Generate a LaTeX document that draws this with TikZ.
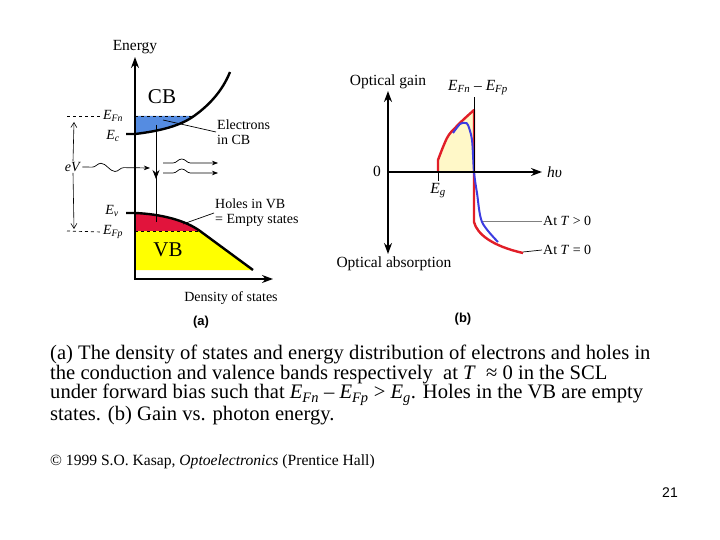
\documentclass[tikz,border=0pt]{standalone}
\usepackage{fontspec}
\setmainfont{Liberation Serif}
\newfontfamily\arialfont{Liberation Sans}
\usetikzlibrary{arrows.meta,decorations.pathmorphing,positioning}
\definecolor{cbblue}{RGB}{85,140,225}
\definecolor{vbred}{RGB}{225,20,60}
\definecolor{vbyellow}{RGB}{255,255,0}
\definecolor{gainfill}{RGB}{255,248,200}
\definecolor{gainred}{RGB}{225,30,40}
\definecolor{gainblue}{RGB}{60,60,225}
\newcommand{\En}[1]{\textit{E}\textsubscript{\textit{#1}}}

\begin{document}
\begin{tikzpicture}[x=1pt,y=-1pt,>=Stealth,
  axis/.style={line width=2.6pt,line join=miter,{Stealth[length=11pt,width=8pt]}-{Stealth[length=11pt,width=8pt]}},
  lbl/.style={font=\fontsize{14}{15}\selectfont,inner sep=1pt},
  glbl/.style={font=\fontsize{15.5}{17}\selectfont,inner sep=1pt},
  band/.style={font=\fontsize{21}{24}\selectfont,inner sep=0pt},
  thinarrow/.style={line width=0.6pt,-{Straight Barb[length=5pt,width=6pt]}},
  photon/.style={line width=0.7pt,decorate,
    decoration={snake,amplitude=4pt,segment length=28pt,pre length=10pt,post length=14pt}},
  pointer/.style={line width=0.7pt},
  fermi/.style={dashed,line width=0.7pt}]
\useasboundingbox (0,0) rectangle (720,540);

% (a) density of states
\fill[cbblue] (135,116) -- (135,134) .. controls (160,131) and (180,126) .. (194,116) -- cycle;
\fill[vbyellow] (135,231) -- (200,231) -- (253,270) -- (135,270) -- cycle;
\fill[vbred] (135,213) .. controls (160,214) and (185,220) .. (200,231) -- (135,231) -- cycle;
\draw[line width=2.4pt] (126,134) -- (135,134) .. controls (160,131) and (180,126) .. (194,116)
  .. controls (208,106) and (222,92) .. (230,72);
\draw[line width=2.4pt] (126,213) -- (135,213) .. controls (160,214) and (185,220) .. (200,231) -- (253,270);
\draw[fermi] (135,116) -- (192,116);
\draw[fermi] (135,231) -- (200,231);
\coordinate (etip) at (135,57);
\coordinate (dtip) at (273,279);
\draw[axis] (etip) -- (135,279) -- (dtip);
\node[glbl,above=2pt of etip] (energy) {Energy};
\node[lbl,anchor=north] (dos) at (231,290) {Density of states};
\node[band] (cb) at (162,97) {CB};
\node[band] (vb) at (168,250) {VB};

\node[lbl] (efn) at (113,116) {\En{Fn}};
\node[lbl] (ec) at (113,136) {\En{c}};
\node[lbl] (ev) at (112,211) {\En{v}};
\node[lbl] (efp) at (113,232) {\En{Fp}};
\draw[fermi] (67,116) -- (efn.west);
\draw[fermi] (67,231) -- (efp.west);
\node[lbl] (ev2) at (73,167) {\textit{eV}};
\draw[thinarrow] (ev2.north) -- (74,122);
\draw[thinarrow] (ev2.south) -- (74,229);

% photons and transition
\draw[photon,->] (ev2.east) -- (150,168);
\draw[photon,->] (163,163) -- (218,163);
\draw[photon,->] (163,173) -- (218,173);
\coordinate (up) at (156,125);
\coordinate (down) at (156,222);
\draw[line width=0.7pt] (up) -- (down);
\draw[line width=0.7pt,-{Stealth[length=9pt,width=7pt]}] (up) -- (156,179);

\node[lbl,anchor=west,align=left] (elec) at (216,132) {Electrons\\in CB};
\node[lbl,anchor=west,align=left] (holes) at (214,213) {Holes in VB\\= Empty states};
\coordinate (elecpt) at (163,120);
\coordinate (holept) at (183,224);
\draw[pointer] (elecpt) -- (elec.west);
\draw[pointer] (holept) -- (holes.west);

% (b) gain spectrum
\fill[gainfill] (438,172) -- plot[smooth,tension=0.6] coordinates {(438,160) (447,138) (455,128) (463,120) (474,110)} -- (474,172) -- cycle;
\draw[gainred,line width=2.4pt,line join=round] (438,172) -- plot[smooth,tension=0.6] coordinates {(438,160) (447,138) (455,128) (463,120) (474,110)}
  -- (474,222) .. controls (477,234) and (492,246) .. (523,253);
\draw[gainblue,line width=2pt] plot[smooth,tension=0.5] coordinates {(453,133) (460,124) (465,123) (468,125) (472,140) (474,172) (477,193) (482,222) (498,242)};
\coordinate (gtip) at (388,91);
\coordinate (atip) at (388,254);
\coordinate (htip) at (542,172);
\draw[axis,-{Stealth[length=11pt,width=8pt]}] (388,172) -- (htip);
\draw[axis] (gtip) -- (atip);
\node[glbl,above=1pt of gtip] (gain) {Optical gain};
\node[glbl,below=2pt of atip,xshift=6pt] (absorb) {Optical absorption};
\node[glbl,anchor=east] (zero) at (382,171) {0};
\node[glbl,anchor=west] (hv) at (546,172) {\textit{hυ}};
\draw[line width=0.7pt] (438,172) -- (438,181) node[glbl,below=1pt] (eg) {\En{g}};
\draw[line width=0.7pt] (474,172) -- (474,97) node[glbl,above=1pt,xshift=4pt] (diff) {\En{Fn} -- \En{Fp}};
\node[lbl,anchor=west] (tpos) at (542,221) {At \textit{T} > 0};
\node[lbl,anchor=west] (tzero) at (542,250) {At \textit{T} = 0};
\coordinate (tpospt) at (483,221);
\coordinate (tzeropt) at (523,252);
\draw[pointer,gray] (tpospt) -- (tpos.west);
\draw[pointer] (tzeropt) -- (tzero.west);

% panel tags and caption
\node[font=\arialfont\bfseries\fontsize{13}{15}\selectfont] (taga) at (201,322) {(a)};
\node[font=\arialfont\bfseries\fontsize{13}{15}\selectfont] (tagb) at (463,319) {(b)};
\node[anchor=north west,align=left,inner sep=0pt,font=\fontsize{20.6}{19.6}\selectfont] (caption) at (50,345)
  {(a) The density of states and energy distribution of electrons and holes in\\
   the conduction and valence bands respectively\ \ at \textit{T}\ \ ≈ 0 in the SCL\\
   under forward bias such that \En{Fn} – \En{Fp} > \En{g}. Holes in the VB are empty\\
   states. (b) Gain vs. photon energy.};
\node[anchor=base west,inner sep=0pt,font=\fontsize{15.6}{17}\selectfont] (copy) at (50,465)
  {© 1999 S.O. Kasap, \textit{Optoelectronics} (Prentice Hall)};
\node[font=\arialfont\fontsize{14}{16}\selectfont] (page) at (670,493) {21};
\end{tikzpicture}
\end{document}
